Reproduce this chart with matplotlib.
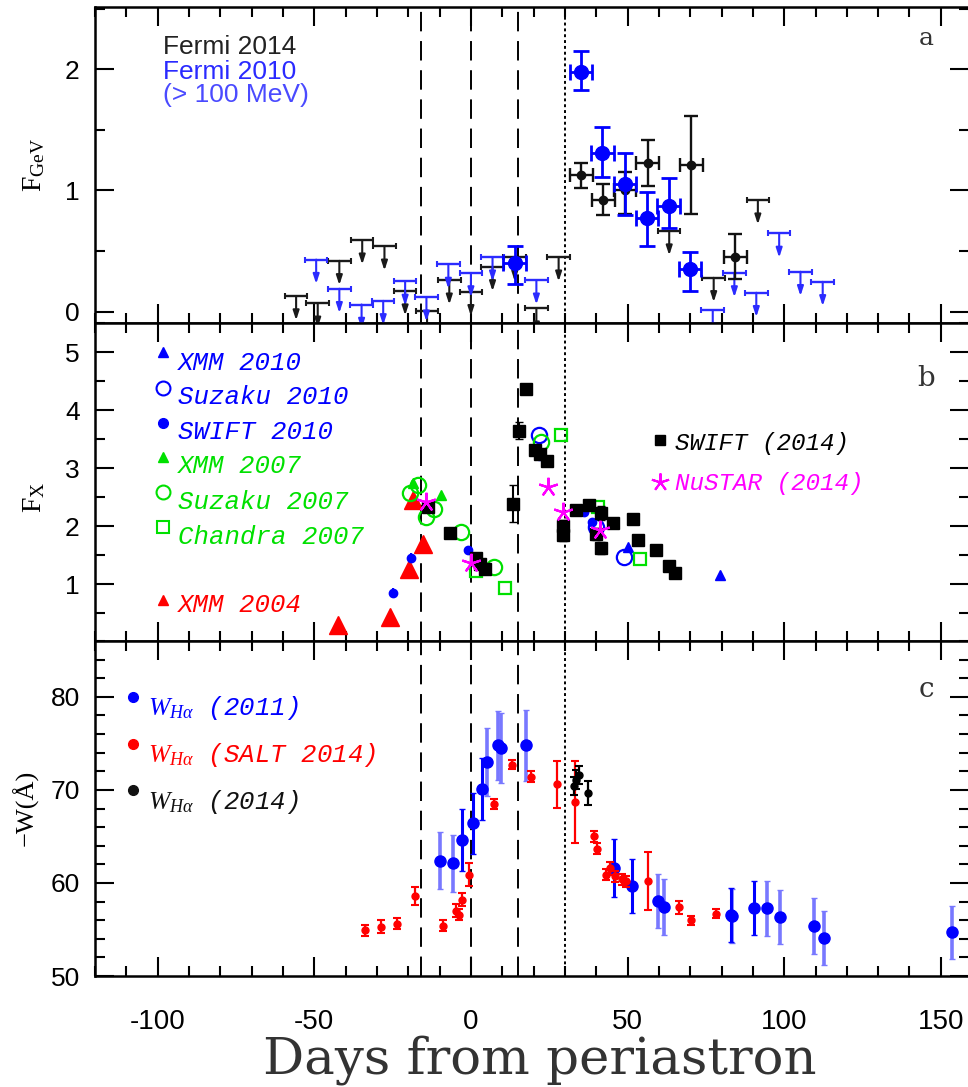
import matplotlib
matplotlib.use('Agg')
import matplotlib.pyplot as plt
from matplotlib.ticker import MultipleLocator

# ---------------- panel a : Fermi GeV flux ----------------
fermi14_x = [35.3, 42.3, 49.2, 56.4, 70.4, 84.4]
fermi14_y = [1.13, 0.92, 1.00, 1.23, 1.21, 0.45]
fermi14_up = [0.10, 0.13, 0.15, 0.19, 0.40, 0.19]
fermi14_lo = [0.11, 0.12, 0.19, 0.19, 0.40, 0.18]

fermi10_x = [14.0, 35.1, 42.0, 49.2, 56.2, 63.1, 70.0]
fermi10_y = [0.40, 1.98, 1.31, 1.05, 0.77, 0.87, 0.35]
fermi10_up = [0.14, 0.17, 0.21, 0.26, 0.22, 0.23, 0.14]
fermi10_lo = [0.17, 0.15, 0.20, 0.25, 0.23, 0.18, 0.18]

ul14_x = [-55.8, -48.9, -42.0, -34.7, -27.6, -21.0, -14.0, -6.9, 0.0, 6.9,
          14.0, 20.9, 28.0, 63.3, 77.5, 91.6]
ul14_y = [0.13, 0.07, 0.42, 0.59, 0.54, 0.17, 0.01, 0.26, 0.165, 0.37,
          0.45, 0.03, 0.45, 0.665, 0.28, 0.92]

ul10_x = [-49.4, -42.0, -34.9, -28.0, -21.0, -14.2, -7.2, 0.0, 6.9, 20.9,
          77.2, 84.1, 91.1, 98.4, 105.2, 112.3]
ul10_y = [0.43, 0.19, 0.06, 0.09, 0.25, 0.12, 0.39, 0.32, 0.45, 0.26,
          0.014, 0.32, 0.157, 0.646, 0.33, 0.247]

# ---------------- panel b : X-ray flux ----------------
xmm04_x = [-42.5, -25.8, -19.9, -18.6, -15.4]
xmm04_y = [0.30, 0.44, 1.27, 2.45, 1.70]

xmm10_x = [22.9, 50.2, 79.6]
xmm10_y = [3.22, 1.64, 1.16]

suzaku10_x = [21.8, 39.9, 49.0]
suzaku10_y = [3.57, 1.99, 1.47]

swift10_x = [-25.0, -19.1, -1.0, 36.2, 38.8]
swift10_y = [0.85, 1.46, 1.59, 2.25, 2.07]
swift10_err = [0.09, 0.08, 0.05, 0.05, 0.05]

xmm07_x = [-18.6, -9.5]
xmm07_y = [2.74, 2.53]

suzaku07_x = [-19.4, -17.0, -14.3, -11.7, -3.2, 7.5, 22.5]
suzaku07_y = [2.57, 2.71, 2.16, 2.30, 1.90, 1.29, 3.45]

chandra07_x = [1.6, 10.9, 28.8, 40.5, 54.0]
chandra07_y = [1.23, 0.94, 3.58, 2.33, 1.43]

swift14_x = [-13.8, -6.7, 1.5, 3.0, 4.5, 13.3, 15.4, 17.6, 20.6, 22.0, 24.3,
             29.3, 29.3, 33.6, 37.8, 39.9, 41.5, 41.5, 45.2, 51.6, 53.4, 59.1,
             63.3, 65.1]
swift14_y = [2.33, 1.88, 1.45, 1.35, 1.27, 2.39, 3.65, 4.37, 3.31, 3.25, 3.13,
             2.00, 1.85, 2.28, 2.36, 1.87, 2.22, 1.62, 2.05, 2.12, 1.76, 1.59,
             1.31, 1.20]
swift14_err = [0.05, 0.05, 0.05, 0.05, 0.05, 0.32, 0.15, 0.08, 0.05, 0.05, 0.05,
               0.10, 0.10, 0.05, 0.05, 0.10, 0.12, 0.10, 0.05, 0.05, 0.05, 0.05,
               0.05, 0.05]

nustar_x = [-14.3, 0.0, 24.5, 29.3, 41.2]
nustar_y = [2.42, 1.36, 2.67, 2.25, 1.94]

# ---------------- panel c : H-alpha equivalent width ----------------
salt_x = [-33.7, -28.6, -23.6, -17.8, -8.8, -4.8, -3.7, -2.8, -0.7, 7.3, 13.2,
          19.2, 27.5, 33.3, 39.2, 40.1, 43.1, 44.5, 46.1, 48.2, 49.5, 56.4,
          66.3, 70.2, 78.2]
salt_y = [54.9, 55.3, 55.6, 58.6, 55.4, 57.0, 56.6, 58.2, 60.9, 68.5, 72.7,
          71.4, 70.6, 68.7, 65.0, 63.7, 60.9, 61.6, 60.7, 60.4, 60.2, 60.2,
          57.4, 56.0, 56.7]
salt_err = [0.6, 0.7, 0.6, 1.0, 0.6, 0.7, 0.6, 0.7, 1.2, 0.5, 0.5, 0.6, 2.5,
            4.4, 0.6, 0.6, 0.6, 0.7, 0.6, 0.6, 0.6, 3.1, 0.7, 0.5, 0.5]

ha14_x = [33.0, 33.7, 34.4, 37.5]
ha14_y = [70.4, 71.1, 71.6, 69.7]
ha14_err = [1.0, 1.0, 1.0, 1.3]

# 2011 data, two sub-sets (dark / light error bars)
ha11a_x = [-2.8, 0.6, 3.6, 45.7, 51.3, 83.0, 90.5]
ha11a_y = [64.6, 66.4, 70.1, 61.6, 59.7, 56.6, 57.3]
ha11a_err = [3.3, 3.3, 3.3, 3.1, 2.9, 2.9, 2.9]

ha11b_x = [-9.8, -5.6, 5.0, 8.5, 9.6, 17.5, 59.6, 61.5, 83.5, 94.4, 98.7,
           109.4, 112.6, 153.6]
ha11b_y = [62.4, 62.1, 73.0, 74.8, 74.5, 74.8, 58.1, 57.4, 56.4, 57.3, 56.3,
           55.4, 54.1, 54.7]
ha11b_err = [3.1, 3.1, 3.7, 3.7, 3.8, 3.8, 2.9, 3.0, 2.9, 2.95, 2.9, 3.0, 2.9,
             2.85]

dash_days = [-16, 0, 15]
dot_day = 30

# ---------------------------------------------------------------------
plt.rcParams['axes.unicode_minus'] = False
plt.rcParams['font.family'] = ['Liberation Sans', 'DejaVu Sans']
plt.rcParams['mathtext.fontset'] = 'custom'
plt.rcParams['mathtext.rm'] = 'Liberation Serif'
plt.rcParams['mathtext.it'] = 'Liberation Serif:italic'

W, H = 968.0, 1087.0
fig = plt.figure(figsize=(W / 100, H / 100), dpi=100)


def px_axes(left, top, right, bottom):
    return fig.add_axes([left / W, 1 - bottom / H, (right - left) / W,
                         (bottom - top) / H])


ax_a = px_axes(95, 7.3, 969, 322.7)
ax_b = px_axes(95, 322.7, 969, 641)
ax_c = px_axes(95, 641, 969, 976)

for ax in (ax_a, ax_b, ax_c):
    ax.set_xlim(-120, 159)
    ax.xaxis.set_major_locator(MultipleLocator(50))
    ax.xaxis.set_minor_locator(MultipleLocator(10))
    ax.tick_params(which='both', direction='in', top=True, right=True,
                   width=1.5, labelsize=19, pad=11)
    ax.tick_params(which='major', length=14)
    ax.tick_params(which='minor', length=7.5)
    for s in ax.spines.values():
        s.set_linewidth(1.8)
    for d in dash_days:
        ax.axvline(d, color='k', lw=1.4, ls=(0, (10, 5)), zorder=1)
    ax.axvline(dot_day, color='k', lw=1.4, ls=(0, (1.5, 1.5)), zorder=1)

ax_a.tick_params(labelbottom=False)
ax_b.tick_params(labelbottom=False)

# ---- panel a
ax_a.set_ylim(-0.09, 2.51)
ax_a.set_yticks([0, 1, 2])
ax_a.yaxis.set_minor_locator(MultipleLocator(0.5))


def upper_limits(ax, xs, ys, color):
    ax.errorbar(xs, ys, xerr=3.6, fmt='none', ecolor=color, elinewidth=1.7,
                capsize=2.5, capthick=1.5, zorder=3)
    for x, y in zip(xs, ys):
        ax.annotate('', xy=(x, y - 0.2), xytext=(x, y), annotation_clip=False,
                    arrowprops=dict(arrowstyle='-|>,head_length=0.55,head_width=0.18',
                                    color=color, lw=1.5, shrinkA=0, shrinkB=0))


upper_limits(ax_a, ul14_x, ul14_y, '#1a1a1a')
upper_limits(ax_a, ul10_x, ul10_y, '#2b2bff')

ax_a.errorbar(fermi14_x, fermi14_y, xerr=3.6, yerr=[fermi14_lo, fermi14_up],
              fmt='o', color='#111111', ms=6, elinewidth=1.7, capsize=5,
              capthick=1.7, zorder=4)
ax_a.errorbar(fermi10_x, fermi10_y, xerr=3.6, yerr=[fermi10_lo, fermi10_up],
              fmt='o', color='#0000ff', ms=10, elinewidth=2, capsize=6,
              capthick=2, zorder=5)

ax_a.text(0.078, 0.874, 'Fermi 2014', color='#222222', fontsize=19,
          transform=ax_a.transAxes, va='center')
ax_a.text(0.078, 0.795, 'Fermi 2010', color='#2a2aff', fontsize=19,
          transform=ax_a.transAxes, va='center')
ax_a.text(0.078, 0.722, '(> 100 MeV)', color='#4a4aff', fontsize=19,
          transform=ax_a.transAxes, va='center')
ax_a.text(0.951, 0.9, 'a', fontsize=18, family='DejaVu Serif',
          color='#333333', transform=ax_a.transAxes, ha='center', va='center')

# ---- panel b
ax_b.set_ylim(0.02, 5.51)
ax_b.set_yticks([1, 2, 3, 4, 5])
ax_b.yaxis.set_minor_locator(MultipleLocator(0.5))

green = '#00e000'
ax_b.plot(xmm04_x, xmm04_y, '^', color='#ff0000', ms=13, zorder=3)
ax_b.plot(xmm10_x, xmm10_y, '^', color='#0000ff', ms=7, zorder=3)
ax_b.plot(suzaku10_x, suzaku10_y, 'o', mfc='none', mec='#0000ff', ms=11,
          mew=1.6, zorder=3)
ax_b.errorbar(swift10_x, swift10_y, yerr=swift10_err, fmt='o', color='#0000ff',
              ms=6, elinewidth=1.5, capsize=0, zorder=3)
ax_b.plot(xmm07_x, xmm07_y, '^', color=green, ms=7, zorder=3)
ax_b.plot(suzaku07_x, suzaku07_y, 'o', mfc='none', mec=green, ms=11,
          mew=1.6, zorder=3)
ax_b.plot(chandra07_x, chandra07_y, 's', mfc='none', mec=green, ms=9,
          mew=1.6, zorder=3)
ax_b.errorbar(swift14_x, swift14_y, yerr=swift14_err, fmt='s', color='k',
              ms=8, elinewidth=1.5, capsize=3, zorder=4)
ax_b.plot(nustar_x, nustar_y, marker=(5, 2, 0), ls='none', color='#ff00ff',
          ms=14, mew=1.6, zorder=5)

leg_b = [
    ('XMM 2010', '#0000ff', dict(marker='^', color='#0000ff', ms=7), 352, 362.7),
    ('Suzaku 2010', '#0000ff', dict(marker='o', mfc='none', mec='#0000ff', ms=10, mew=1.5), 388, 397),
    ('SWIFT 2010', '#0000ff', dict(marker='o', color='#0000ff', ms=7), 423, 432),
    ('XMM 2007', green, dict(marker='^', color=green, ms=7), 457, 466),
    ('Suzaku 2007', green, dict(marker='o', mfc='none', mec=green, ms=10, mew=1.5), 492, 502),
    ('Chandra 2007', green, dict(marker='s', mfc='none', mec=green, ms=9, mew=1.5), 527, 537),
    ('XMM 2004', '#ff0000', dict(marker='^', color='#ff0000', ms=7), 600, 605),
]
for label, col, mk, my, ty in leg_b:
    ax_b.plot([0.0778], [1 - (my - 322.7) / 318.3], transform=ax_b.transAxes,
              ls='none', clip_on=False, **mk)
    ax_b.text(0.095, 1 - (ty - 322.7) / 318.3, label, color=col, fontsize=18.5,
              family='Liberation Mono', style='italic', va='center',
              transform=ax_b.transAxes)

ax_b.plot([0.647], [1 - (440 - 322.7) / 318.3], 's', color='k', ms=7,
          transform=ax_b.transAxes)
ax_b.text(0.664, 1 - (443 - 322.7) / 318.3, 'SWIFT (2014)', color='k',
          fontsize=17.5, family='Liberation Mono', style='italic', va='center',
          transform=ax_b.transAxes)
ax_b.plot([0.647], [1 - (481.7 - 322.7) / 318.3], marker=(5, 2, 0),
          color='#ff00ff', ms=13, mew=1.5, transform=ax_b.transAxes)
ax_b.text(0.664, 1 - (483 - 322.7) / 318.3, 'NuSTAR (2014)', color='#ff00ff',
          fontsize=17.5, family='Liberation Mono', style='italic', va='center',
          transform=ax_b.transAxes)
ax_b.text(0.951, 0.826, 'b', fontsize=20, family='DejaVu Serif',
          color='#333333', transform=ax_b.transAxes, ha='center', va='center')

# ---- panel c
ax_c.set_ylim(50, 86)
ax_c.set_yticks([50, 60, 70, 80])
ax_c.yaxis.set_minor_locator(MultipleLocator(2))
ax_c.set_xticks([-100, -50, 0, 50, 100, 150])
ax_c.tick_params(axis='x', which='major', pad=24)
for t in ax_c.get_xticklabels():
    t.set_fontfamily(['Liberation Sans Narrow', 'Liberation Sans'])
    t.set_fontsize(20)

ax_c.errorbar(ha11b_x, ha11b_y, yerr=ha11b_err, fmt='o', color='#0000ff',
              ecolor='#7878ff', ms=8, elinewidth=2.6, capsize=2, zorder=3)
ax_c.errorbar(ha11a_x, ha11a_y, yerr=ha11a_err, fmt='o', color='#0000ff',
              ecolor='#0000ff', ms=8, elinewidth=2.2, capsize=2, zorder=3)
ax_c.errorbar(salt_x, salt_y, yerr=salt_err, fmt='o', color='#ff0000',
              ms=5, elinewidth=1.6, capsize=3, capthick=1.5, zorder=4)
ax_c.errorbar(ha14_x, ha14_y, yerr=ha14_err, fmt='o', color='k',
              ms=5, elinewidth=1.6, capsize=3, capthick=1.5, zorder=5)

leg_c = [
    (r'$W_{H\alpha}$ (2011)', '#0000ff', 696.7, 708),
    (r'$W_{H\alpha}$ (SALT 2014)', '#ff0000', 744, 755),
    (r'$W_{H\alpha}$ (2014)', '#111111', 790, 802),
]
for label, col, my, ty in leg_c:
    ax_c.plot([0.0435], [1 - (my - 641) / 335], 'o', color=col, ms=7,
              transform=ax_c.transAxes, clip_on=False)
    ax_c.text(0.0606, 1 - (ty - 641) / 335, label, color=col, fontsize=18.5,
              family='Liberation Mono', style='italic', va='center',
              transform=ax_c.transAxes)
ax_c.text(0.951, 0.854, 'c', fontsize=20, family='DejaVu Serif',
          color='#333333', transform=ax_c.transAxes, ha='center', va='center')

# ---- axis titles
fig.text(34 / W, 1 - 165 / H, r'$\mathrm{F}_{\mathrm{GeV}}$', fontsize=20,
         rotation=90, ha='center', va='center')
fig.text(34 / W, 1 - 497 / H, r'$\mathrm{F}_{\mathrm{X}}$', fontsize=20,
         rotation=90, ha='center', va='center')
fig.text(25 / W, 1 - 808 / H, '−W(Å)', fontsize=19, family='Liberation Serif',
         rotation=90, ha='center', va='center')
fig.text(540 / W, 1 - 1060 / H, 'Days from periastron', fontsize=37,
         family='DejaVu Serif', color='#333333', ha='center', va='center')

fig.savefig('out.png', dpi=100)
